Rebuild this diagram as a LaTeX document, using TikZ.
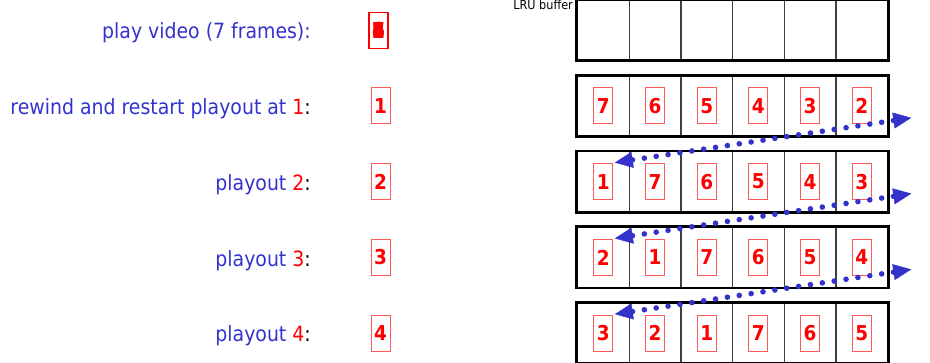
\documentclass[tikz,border=0pt]{standalone}
\usepackage{fontspec}
\setmainfont{DejaVu Sans Condensed}
\usetikzlibrary{arrows.meta,calc}
\definecolor{capblue}{RGB}{51,51,204}

\begin{document}
\begin{tikzpicture}[
  x=1pt, y=-1pt,
  caption/.style={anchor=east, text=capblue, inner sep=0pt, font=\fontsize{21}{25}\selectfont},
  frame/.style={draw=red!65, line width=0.9pt, text=red, font=\fontsize{20.5}{24}\selectfont\bfseries,
    minimum width=19pt, minimum height=36pt, inner sep=0pt},
  cell/.style={draw=black!75, line width=1.3pt, minimum width=51.7pt, minimum height=60pt, inner sep=0pt},
  rowbox/.style={line width=2.8pt},
  hop/.style={draw=capblue, line width=5.6pt, line cap=round, dash pattern=on 0pt off 12pt,
    {Triangle[length=18pt,width=16pt,line width=0.5pt]}-{Triangle[length=18pt,width=16pt,line width=0.5pt]}}
]
\useasboundingbox (0,0) rectangle (930,362);

% buffer rows
\foreach \r in {1,...,5}{
  \foreach \c in {1,...,6}
    \node[cell] (c-\r-\c) at ({603.3+51.7*(\c-1)}, {30+75.8*(\r-1)}) {};
  \draw[rowbox] (c-\r-1.north west) rectangle (c-\r-6.south east);
}
\node[anchor=base east, inner sep=0pt, font=\fontsize{12.5}{14}\selectfont] (lru) at (573,9.3) {LRU buffer};

% frames held in the buffer
\foreach \r/\seq in {2/{7,6,5,4,3,2}, 3/{1,7,6,5,4,3}, 4/{2,1,7,6,5,4}, 5/{3,2,1,7,6,5}}
  \foreach \d [count=\c] in \seq
    \node[frame] (f-\r-\c) at (c-\r-\c) {\d};

% left column
\node[caption] (t-1) at (311,33) {play video (7 frames):};
\node[caption] (t-2) at (311,108.8) {rewind and restart playout at \textcolor{red}{1}\textcolor{black}{:}};
\node[caption] (t-3) at (311,184.6) {playout \textcolor{red}{2}\textcolor{black}{:}};
\node[caption] (t-4) at (311,260.4) {playout \textcolor{red}{3}\textcolor{black}{:}};
\node[caption] (t-5) at (311,336.2) {playout \textcolor{red}{4}\textcolor{black}{:}};

\foreach \d in {1,...,7}
  \node[frame, draw=red, line width=1.8pt] (play-\d) at (378.5,30.5) {\d};
\foreach \r/\d in {2/1, 3/2, 4/3, 5/4}
  \node[frame] (p-\r) at (380.5,{30+75.8*(\r-1)}) {\d};

% wrap-around moves
\foreach \r/\n in {2/3, 3/4, 4/5}{
  \coordinate (out-\r) at ($(c-\r-6.east)+(23,12)$);
  \coordinate (in-\n) at ($(c-\n-1.west)+(38,-19)$);
  \draw[hop] (in-\n) -- (out-\r);
}

\end{tikzpicture}
\end{document}
